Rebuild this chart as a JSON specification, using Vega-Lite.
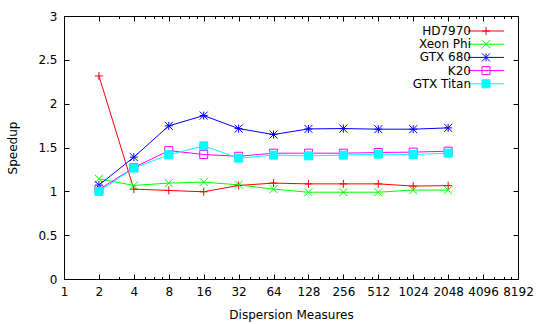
{
  "$schema": "https://vega.github.io/schema/vega-lite/v6.json",
  "width": 454,
  "height": 263,
  "autosize": "none",
  "padding": {"left": 64, "top": 16, "right": 22, "bottom": 45},
  "config": {
    "font": "DejaVu Sans",
    "view": {"stroke": "#000000", "strokeWidth": 1},
    "axis": {
      "domain": false,
      "grid": false,
      "tickColor": "#000000",
      "tickWidth": 1,
      "labelColor": "#000000",
      "labelFont": "DejaVu Sans",
      "labelFontSize": 12,
      "titleFont": "DejaVu Sans",
      "titleFontSize": 12,
      "titleFontWeight": "normal",
      "titleColor": "#000000"
    },
    "legend": {
      "labelFont": "DejaVu Sans",
      "labelFontSize": 12,
      "labelColor": "#000000"
    }
  },
  "data": {
    "values": [
      {"series": "HD7970", "dm": 2, "speedup": 2.316},
      {"series": "HD7970", "dm": 4, "speedup": 1.025},
      {"series": "HD7970", "dm": 8, "speedup": 1.01},
      {"series": "HD7970", "dm": 16, "speedup": 0.995},
      {"series": "HD7970", "dm": 32, "speedup": 1.067},
      {"series": "HD7970", "dm": 64, "speedup": 1.094},
      {"series": "HD7970", "dm": 128, "speedup": 1.085},
      {"series": "HD7970", "dm": 256, "speedup": 1.085},
      {"series": "HD7970", "dm": 512, "speedup": 1.085},
      {"series": "HD7970", "dm": 1024, "speedup": 1.06},
      {"series": "HD7970", "dm": 2048, "speedup": 1.065},
      {"series": "Xeon Phi", "dm": 2, "speedup": 1.143},
      {"series": "Xeon Phi", "dm": 4, "speedup": 1.067},
      {"series": "Xeon Phi", "dm": 8, "speedup": 1.094},
      {"series": "Xeon Phi", "dm": 16, "speedup": 1.105},
      {"series": "Xeon Phi", "dm": 32, "speedup": 1.074},
      {"series": "Xeon Phi", "dm": 64, "speedup": 1.025},
      {"series": "Xeon Phi", "dm": 128, "speedup": 0.99},
      {"series": "Xeon Phi", "dm": 256, "speedup": 0.99},
      {"series": "Xeon Phi", "dm": 512, "speedup": 0.99},
      {"series": "Xeon Phi", "dm": 1024, "speedup": 1.014},
      {"series": "Xeon Phi", "dm": 2048, "speedup": 1.014},
      {"series": "GTX 680", "dm": 2, "speedup": 1.071},
      {"series": "GTX 680", "dm": 4, "speedup": 1.39},
      {"series": "GTX 680", "dm": 8, "speedup": 1.747},
      {"series": "GTX 680", "dm": 16, "speedup": 1.864},
      {"series": "GTX 680", "dm": 32, "speedup": 1.716},
      {"series": "GTX 680", "dm": 64, "speedup": 1.648},
      {"series": "GTX 680", "dm": 128, "speedup": 1.712},
      {"series": "GTX 680", "dm": 256, "speedup": 1.716},
      {"series": "GTX 680", "dm": 512, "speedup": 1.709},
      {"series": "GTX 680", "dm": 1024, "speedup": 1.709},
      {"series": "GTX 680", "dm": 2048, "speedup": 1.724},
      {"series": "K20", "dm": 2, "speedup": 1.02},
      {"series": "K20", "dm": 4, "speedup": 1.27},
      {"series": "K20", "dm": 8, "speedup": 1.465},
      {"series": "K20", "dm": 16, "speedup": 1.42},
      {"series": "K20", "dm": 32, "speedup": 1.4},
      {"series": "K20", "dm": 64, "speedup": 1.435},
      {"series": "K20", "dm": 128, "speedup": 1.435},
      {"series": "K20", "dm": 256, "speedup": 1.435},
      {"series": "K20", "dm": 512, "speedup": 1.443},
      {"series": "K20", "dm": 1024, "speedup": 1.447},
      {"series": "K20", "dm": 2048, "speedup": 1.458},
      {"series": "GTX Titan", "dm": 2, "speedup": 0.998},
      {"series": "GTX Titan", "dm": 4, "speedup": 1.265},
      {"series": "GTX Titan", "dm": 8, "speedup": 1.416},
      {"series": "GTX Titan", "dm": 16, "speedup": 1.519},
      {"series": "GTX Titan", "dm": 32, "speedup": 1.378},
      {"series": "GTX Titan", "dm": 64, "speedup": 1.413},
      {"series": "GTX Titan", "dm": 128, "speedup": 1.405},
      {"series": "GTX Titan", "dm": 256, "speedup": 1.413},
      {"series": "GTX Titan", "dm": 512, "speedup": 1.424},
      {"series": "GTX Titan", "dm": 1024, "speedup": 1.42},
      {"series": "GTX Titan", "dm": 2048, "speedup": 1.435}
    ]
  },
  "layer": [
    {
      "mark": {"type": "line", "strokeWidth": 1, "clip": true},
      "encoding": {
        "x": {
          "field": "dm",
          "type": "quantitative",
          "scale": {"type": "log", "base": 2, "domain": [1, 8192], "nice": false, "zero": false},
          "axis": {
            "orient": "bottom",
            "title": "Dispersion Measures",
            "titleX": 227,
            "titleY": 35,
            "titleBaseline": "middle",
            "titleAlign": "center",
            "values": [1, 2, 3, 4, 5, 6, 7, 8, 10, 12, 14, 16, 20, 24, 28, 32, 40, 48, 56, 64, 80, 96, 112, 128, 160, 192, 224, 256, 320, 384, 448, 512, 640, 768, 896, 1024, 1280, 1536, 1792, 2048, 2560, 3072, 3584, 4096, 5120, 6144, 7168, 8192],
            "labelExpr": "abs(log(datum.value)/LN2 - round(log(datum.value)/LN2)) < 0.000001 ? format(datum.value, 'd') : ''",
            "labelOverlap": false,
            "labelFlush": false,
            "labelBaseline": "top",
            "labelPadding": 12,
            "tickSize": {"condition": {"test": "abs(log(datum.value)/LN2 - round(log(datum.value)/LN2)) < 0.000001", "value": -5}, "value": -2.5}
          }
        },
        "y": {
          "field": "speedup",
          "type": "quantitative",
          "scale": {"domain": [0, 3], "nice": false, "zero": false},
          "axis": {
            "orient": "left",
            "title": "Speedup",
            "titleX": -52,
            "titleY": 131.5,
            "titleAngle": -90,
            "titleBaseline": "middle",
            "titleAlign": "center",
            "values": [0, 0.5, 1, 1.5, 2, 2.5, 3],
            "format": "~g",
            "labelPadding": 12,
            "tickSize": -5
          }
        },
        "color": {
          "field": "series",
          "type": "nominal",
          "scale": {
            "domain": ["HD7970", "Xeon Phi", "GTX 680", "K20", "GTX Titan"],
            "range": ["#ff0000", "#00ff00", "#0000ff", "#ff00ff", "#00ffff"]
          },
          "legend": {
            "orient": "none",
            "legendX": 416,
            "legendY": 9,
            "padding": 0,
            "title": null,
            "symbolSize": 100,
            "symbolStrokeWidth": 1,
            "labelAlign": "right",
            "labelOffset": -21,
            "rowPadding": 1.2,
            "encode": {
              "symbols": {
                "update": {
                  "shape": {"signal": "datum.value === 'HD7970' ? 'M-3.6,0H3.6M-0.8,0H0.8M0,-0.8V0.8' : datum.value === 'Xeon Phi' ? 'M-3.6,0H3.6M-0.8,-0.8L0.8,0.8M-0.8,0.8L0.8,-0.8' : datum.value === 'GTX 680' ? 'M-3.6,0H3.6M0,-0.8V0.8M-0.8,-0.8L0.8,0.8M-0.8,0.8L0.8,-0.8' : 'M-3.6,0H3.6M-0.8,-0.8H0.8V0.8H-0.8Z'"},
                  "fill": {"signal": "datum.value === 'GTX Titan' ? '#00ffff' : 'transparent'"}
                }
              }
            }
          }
        }
      }
    },
    {
      "mark": {"type": "point", "filled": false, "strokeWidth": 1, "size": 64, "opacity": 1, "clip": true},
      "encoding": {
        "x": {
          "field": "dm",
          "type": "quantitative",
          "axis": {
            "orient": "top",
            "title": null,
            "labels": false,
            "values": [1, 2, 3, 4, 5, 6, 7, 8, 10, 12, 14, 16, 20, 24, 28, 32, 40, 48, 56, 64, 80, 96, 112, 128, 160, 192, 224, 256, 320, 384, 448, 512, 640, 768, 896, 1024, 1280, 1536, 1792, 2048, 2560, 3072, 3584, 4096, 5120, 6144, 7168, 8192],
            "tickSize": {"condition": {"test": "abs(log(datum.value)/LN2 - round(log(datum.value)/LN2)) < 0.000001", "value": -5}, "value": -2.5}
          }
        },
        "y": {
          "field": "speedup",
          "type": "quantitative",
          "axis": {
            "orient": "right",
            "title": null,
            "labels": false,
            "values": [0, 0.5, 1, 1.5, 2, 2.5, 3],
            "tickSize": -5
          }
        },
        "color": {"field": "series", "type": "nominal"},
        "shape": {
          "field": "series",
          "type": "nominal",
          "legend": null,
          "scale": {
            "domain": ["GTX Titan", "K20", "GTX 680", "Xeon Phi", "HD7970"],
            "range": ["M-1,-1H1V1H-1Z", "M-1,-1H1V1H-1Z", "M-1,0H1M0,-1V1M-1,-1L1,1M-1,1L1,-1", "M-1,-1L1,1M-1,1L1,-1", "M-1,0H1M0,-1V1"]
          }
        },
        "fill": {
          "field": "series",
          "type": "nominal",
          "legend": null,
          "scale": {
            "domain": ["GTX Titan", "HD7970", "Xeon Phi", "GTX 680", "K20"],
            "range": ["#00ffff", "transparent", "transparent", "transparent", "transparent"]
          }
        }
      }
    }
  ],
  "resolve": {"axis": {"x": "independent", "y": "independent"}}
}
